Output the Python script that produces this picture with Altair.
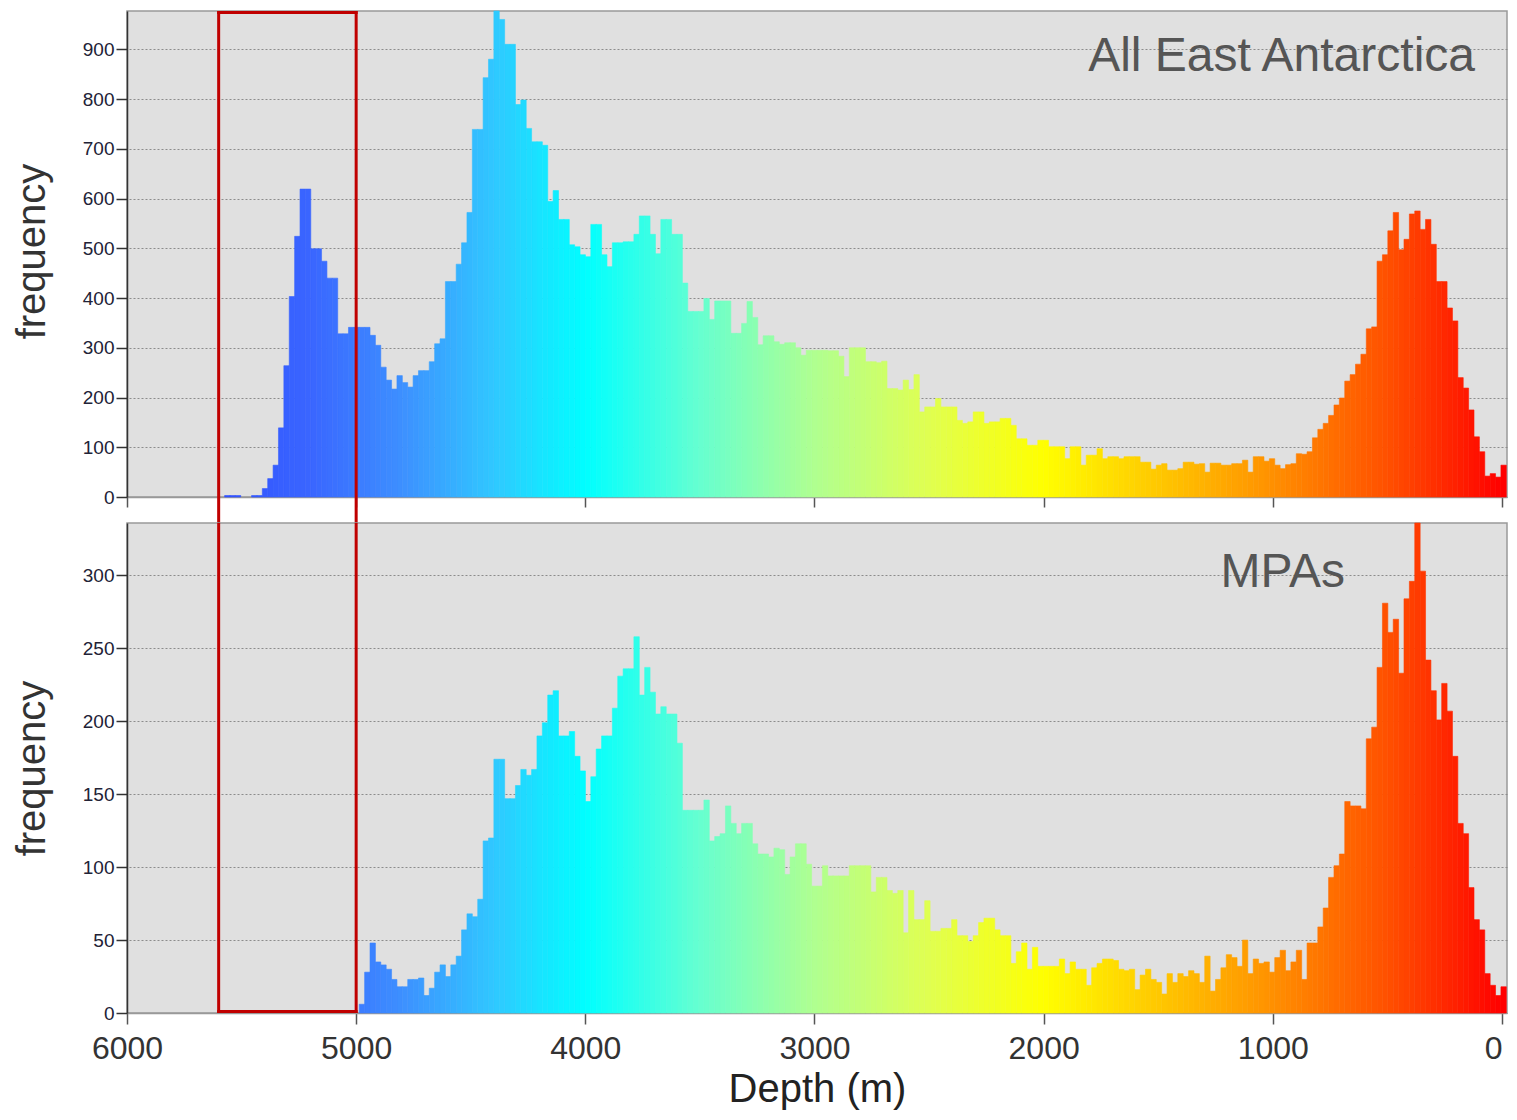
import altair as alt
import pandas as pd

FONT = "Liberation Sans"

# histogram bins (depth, m)
bin_width = 23.5
first_edge = -19.0

# All East Antarctica counts, bin 0 = shallowest
all_counts = [
    64, 40, 47, 42, 91, 121, 175, 219, 240, 354, 380, 433, 433, 508, 558, 538, 575, 569, 518, 497,
    572, 535, 487, 474, 342, 338, 287, 267, 246, 233, 199, 185, 164, 148, 136, 119, 91, 86, 87, 67,
    65, 57, 64, 77, 72, 81, 81, 50, 74, 67, 67, 64, 64, 68, 68, 50, 67, 66, 70, 70,
    57, 54, 54, 67, 64, 56, 70, 70, 81, 81, 81, 77, 81, 81, 77, 97, 84, 84, 64, 101,
    101, 77, 101, 101, 101, 114, 114, 104, 104, 117, 117, 144, 158, 158, 151, 151, 148, 171, 171, 151,
    148, 154, 181, 181, 181, 198, 181, 181, 171, 246, 216, 235, 215, 218, 218, 273, 270, 272, 272, 300,
    300, 300, 242, 283, 294, 294, 295, 295, 295, 295, 285, 300, 310, 310, 307, 312, 324, 324, 306, 361,
    393, 349, 329, 329, 394, 394, 394, 357, 399, 373, 373, 373, 430, 528, 528, 558, 558, 489, 528, 565,
    565, 528, 513, 513, 511, 511, 463, 487, 548, 548, 483, 487, 503, 507, 558, 558, 616, 594, 707, 714,
    714, 741, 798, 789, 910, 910, 960, 977, 880, 843, 739, 739, 572, 511, 468, 433, 433, 318, 308, 272,
    254, 254, 244, 221, 230, 244, 217, 235, 261, 305, 325, 341, 341, 341, 341, 328, 328, 440, 440, 474,
    499, 499, 619, 619, 524, 403, 264, 139, 64, 37, 17, 3, 3, 0, 0, 3, 3, 3,
]

# MPAs counts, bin 0 = shallowest
mpa_counts = [
    18, 12, 19, 27, 57, 64, 86, 123, 130, 176, 207, 226, 201, 221, 242, 303, 336, 296, 284, 233,
    270, 261, 281, 237, 196, 188, 140, 142, 142, 145, 109, 101, 93, 72, 59, 48, 48, 23, 43, 35,
    29, 43, 38, 28, 35, 34, 37, 27, 50, 32, 38, 40, 31, 23, 15, 39, 21, 27, 29, 25,
    27, 21, 27, 13, 21, 23, 30, 26, 16, 30, 29, 30, 36, 37, 37, 34, 31, 19, 30, 30,
    35, 27, 37, 32, 32, 32, 32, 45, 30, 48, 42, 34, 53, 53, 57, 65, 65, 62, 53, 49,
    53, 53, 64, 58, 58, 56, 56, 77, 64, 64, 84, 55, 84, 82, 84, 93, 93, 83, 101, 101,
    101, 101, 94, 94, 94, 94, 101, 87, 87, 102, 116, 116, 107, 95, 112, 113, 107, 109, 109, 116,
    130, 130, 123, 130, 142, 123, 121, 118, 146, 139, 139, 139, 139, 185, 205, 205, 210, 205, 220, 237,
    218, 258, 236, 236, 231, 209, 190, 190, 181, 162, 145, 166, 176, 193, 190, 190, 221, 218, 199, 190,
    167, 163, 167, 156, 147, 147, 174, 174, 120, 118, 78, 66, 68, 57, 39, 33, 25, 33, 28, 17,
    12, 24, 23, 23, 18, 18, 23, 30, 33, 35, 48, 28, 6,
]

x_ticks = [6000, 5000, 4000, 3000, 2000, 1000, 0]
top_y_ticks = [0, 100, 200, 300, 400, 500, 600, 700, 800, 900]
bottom_y_ticks = [0, 50, 100, 150, 200, 250, 300]

color_depths = [5600, 5200, 4800, 4400, 4000, 3500, 3000, 2500, 2000, 1500, 1000, 500, 0]
color_hex = ["#3050ff", "#3a66ff", "#3d90ff", "#30c8ff", "#00ffff", "#66ffd0", "#b0ff90",
             "#e0ff50", "#ffff00", "#ffc800", "#ff9000", "#ff5000", "#ff0000"]

box_depths = [5600, 5000]


def bins_frame(counts):
    rows = []
    for k, c in enumerate(counts):
        lo = first_edge + k * bin_width
        rows.append({"lo": lo, "hi": lo + bin_width, "mid": lo + bin_width / 2, "count": c})
    return pd.DataFrame(rows)


xscale = alt.Scale(domain=[-22, 6000], reverse=True, nice=False, zero=False)
color_scale = alt.Scale(domain=color_depths, range=color_hex, interpolate="rgb")

W = 1380


def yaxis(values, title_y):
    return alt.Axis(
        values=values, format="d", title="frequency", titleFont=FONT, titleFontSize=40,
        titleColor="#333333", titleFontWeight="normal", titleAngle=270, titleX=-95, titleY=title_y,
        titleAlign="center", titleBaseline="middle",
        labelFont=FONT, labelFontSize=19, labelColor="#222236", labelPadding=2,
        tickSize=11, tickColor="#333333", tickWidth=1.5,
        domainColor="#333333", domainWidth=1.5,
        grid=True, gridColor="#8c8c8c", gridDash=[2, 2], gridWidth=1,
    )


def panel(counts, ymax, yvals, xaxis, height, title_y, label, label_x, label_y, top):
    df = bins_frame(counts)
    bars = alt.Chart(df).transform_filter("datum.count > 0").mark_rect(strokeWidth=0.6).encode(
        x=alt.X("lo:Q", scale=xscale, axis=xaxis),
        x2="hi:Q",
        y=alt.Y("count:Q", scale=alt.Scale(domain=[0, ymax], nice=False, zero=True),
                axis=yaxis(yvals, title_y)),
        y2=alt.datum(0),
        color=alt.Color("mid:Q", scale=color_scale, legend=None),
        stroke=alt.Stroke("mid:Q", scale=color_scale, legend=None),
    )
    one = pd.DataFrame({"d": [0]})
    red = "#c00000"
    if top:
        y_top, y_bot, y_h = 0, height + 26, 1.5
    else:
        y_top, y_bot, y_h = 0, height, height - 1.5
    layers = [bars]
    for d in box_depths:
        layers.append(alt.Chart(one).mark_rule(color=red, strokeWidth=3).encode(
            x=alt.datum(d), y=alt.value(y_top), y2=alt.value(y_bot)))
    layers.append(alt.Chart(one).mark_rule(color=red, strokeWidth=3, strokeCap="square").encode(
        x=alt.datum(box_depths[0]), x2=alt.datum(box_depths[1]), y=alt.value(y_h)))
    layers.append(alt.Chart(pd.DataFrame({"t": [label]})).mark_text(
        align="right", baseline="alphabetic", font=FONT, fontSize=48, color="#555555").encode(
        x=alt.value(label_x), y=alt.value(label_y), text="t:N"))
    return alt.layer(*layers).properties(width=W, height=height)


top_xaxis = alt.Axis(values=x_ticks, labels=False, title=None, tickSize=10, tickColor="#555555",
                     tickWidth=1.5, domainColor="#999999", domainWidth=1.5, grid=False)
bottom_xaxis = alt.Axis(values=x_ticks, format="d", title="Depth (m)", labelFlush=False,
                        labelAlign=alt.expr("datum.value === 0 ? 'right' : 'center'"),
                        labelFont=FONT, labelFontSize=32, labelColor="#333333", labelPadding=9,
                        titleFont=FONT, titleFontSize=40, titleColor="#222222", titleFontWeight="normal",
                        titlePadding=5, tickSize=11, tickColor="#555555", tickWidth=1.5,
                        domainColor="#999999", domainWidth=1.5, grid=False)

top = panel(all_counts, 977, top_y_ticks, top_xaxis, 486, 240, "All East Antarctica", 1348, 60, True)
bottom = panel(mpa_counts, 336, bottom_y_ticks, bottom_xaxis, 490, 245, "MPAs", 1218, 64, False)

chart = alt.vconcat(top, bottom, spacing=26, bounds="flush").properties(
    padding={"left": 3, "top": 0, "right": 0, "bottom": 0},
    background="white",
).configure_view(fill="#e0e0e0", stroke="#999999", strokeWidth=1.5)

chart.save("out.html", embed_options={"renderer": "svg", "actions": False})
